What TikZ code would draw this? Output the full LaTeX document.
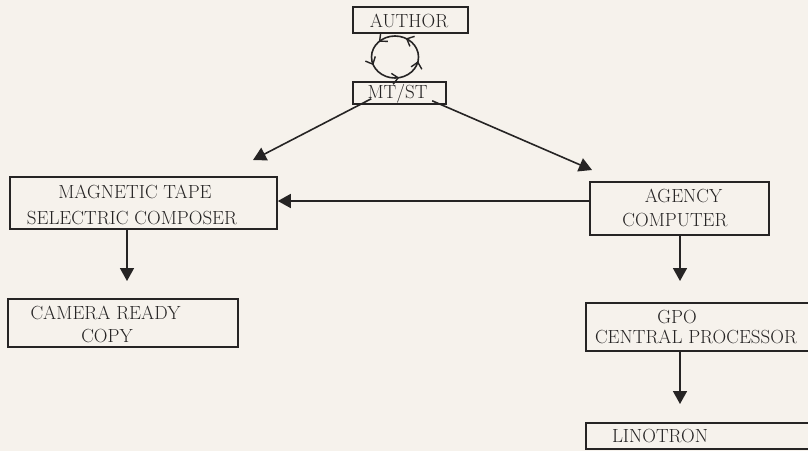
\documentclass[tikz,border=0pt]{standalone}
\usetikzlibrary{arrows.meta,decorations.markings}
\definecolor{bgc}{RGB}{246,242,236}
\definecolor{ink}{RGB}{38,36,36}
\tikzset{
  boxx/.style={draw=ink,line width=1.6pt,rectangle,inner sep=0pt},
  txt/.style={inner sep=0pt,anchor=center,text=ink,font=\fontsize{19}{23}\selectfont},
  arr/.style={draw=ink,line width=1.6pt,-{Triangle[length=13pt,width=14pt]}},
  barbtip/.tip={Straight Barb[length=6pt,width=11pt,line width=1.4pt]},
}
\begin{document}
\begin{tikzpicture}[x=1pt,y=-1pt]
\fill[bgc] (0,0) rectangle (808,451);
\useasboundingbox (0,0) rectangle (808,451);
% boxes
\node[boxx,minimum width=115pt,minimum height=26pt] (author) at (410.5,20) {};
\node[boxx,minimum width=93pt,minimum height=22pt] (mtst) at (399.5,93) {};
\node[boxx,minimum width=267pt,minimum height=52pt] (mag) at (143.5,203) {};
\node[boxx,minimum width=179pt,minimum height=53pt] (agency) at (679.5,208.5) {};
\node[boxx,minimum width=230pt,minimum height=48pt] (camera) at (123,323) {};
\node[boxx,minimum width=226pt,minimum height=48pt] (gpo) at (699,327) {};
\node[boxx,minimum width=226pt,minimum height=26pt] (lino) at (699,436) {};
% texts
\node[txt] (tauthor) at (409,20.5) {AUTHOR};
\node[txt] (tmtst) at (397.5,93.5) {MT/ST};
\node[txt] (tmag1) at (135,192) {MAGNETIC TAPE};
\node[txt] (tmag2) at (132,218.5) {SELECTRIC COMPOSER};
\node[txt] (tag1) at (683.5,195.5) {AGENCY};
\node[txt] (tag2) at (675,220) {COMPUTER};
\node[txt] (tcam1) at (105.5,312.5) {CAMERA READY};
\node[txt] (tcam2) at (107,336) {COPY};
\node[txt] (tgpo1) at (677,317.5) {GPO};
\node[txt] (tgpo2) at (696,337) {CENTRAL PROCESSOR};
\node[txt] (tlino) at (660,436.5) {LINOTRON};
% cycle between author and mt/st
\coordinate (cyc) at (395,57);
\draw[ink,line width=1.6pt,
  postaction={decorate,decoration={markings,
    mark=at position 0.17 with {\arrow{barbtip}},
    mark=at position 0.375 with {\arrow{barbtip}},
    mark=at position 0.56 with {\arrow{barbtip}},
    mark=at position 0.78 with {\arrow{barbtip}},
    mark=at position 0.97 with {\arrow{barbtip}}}}]
  ([xshift=23.5pt]cyc) arc[start angle=0,end angle=-360,x radius=23.5,y radius=21];
% arrow ends
\coordinate (t1) at (253,160);
\coordinate (t2) at (592,170);
\coordinate (t3) at (127,281);
\coordinate (t4) at (680,281);
\coordinate (t5) at (680,404);
% connectors
\draw[arr] ([xshift=19pt,yshift=6pt]mtst.south west) -- (t1);
\draw[arr] ([xshift=80pt,yshift=4pt]mtst.south west) -- (t2);
\draw[arr] (agency.west |- 0,201) -- (mag.east |- 0,201);
\draw[arr] (mag.south -| t3) -- (t3);
\draw[arr] (agency.south -| t4) -- (t4);
\draw[arr] (gpo.south -| t5) -- (t5);
\end{tikzpicture}
\end{document}
